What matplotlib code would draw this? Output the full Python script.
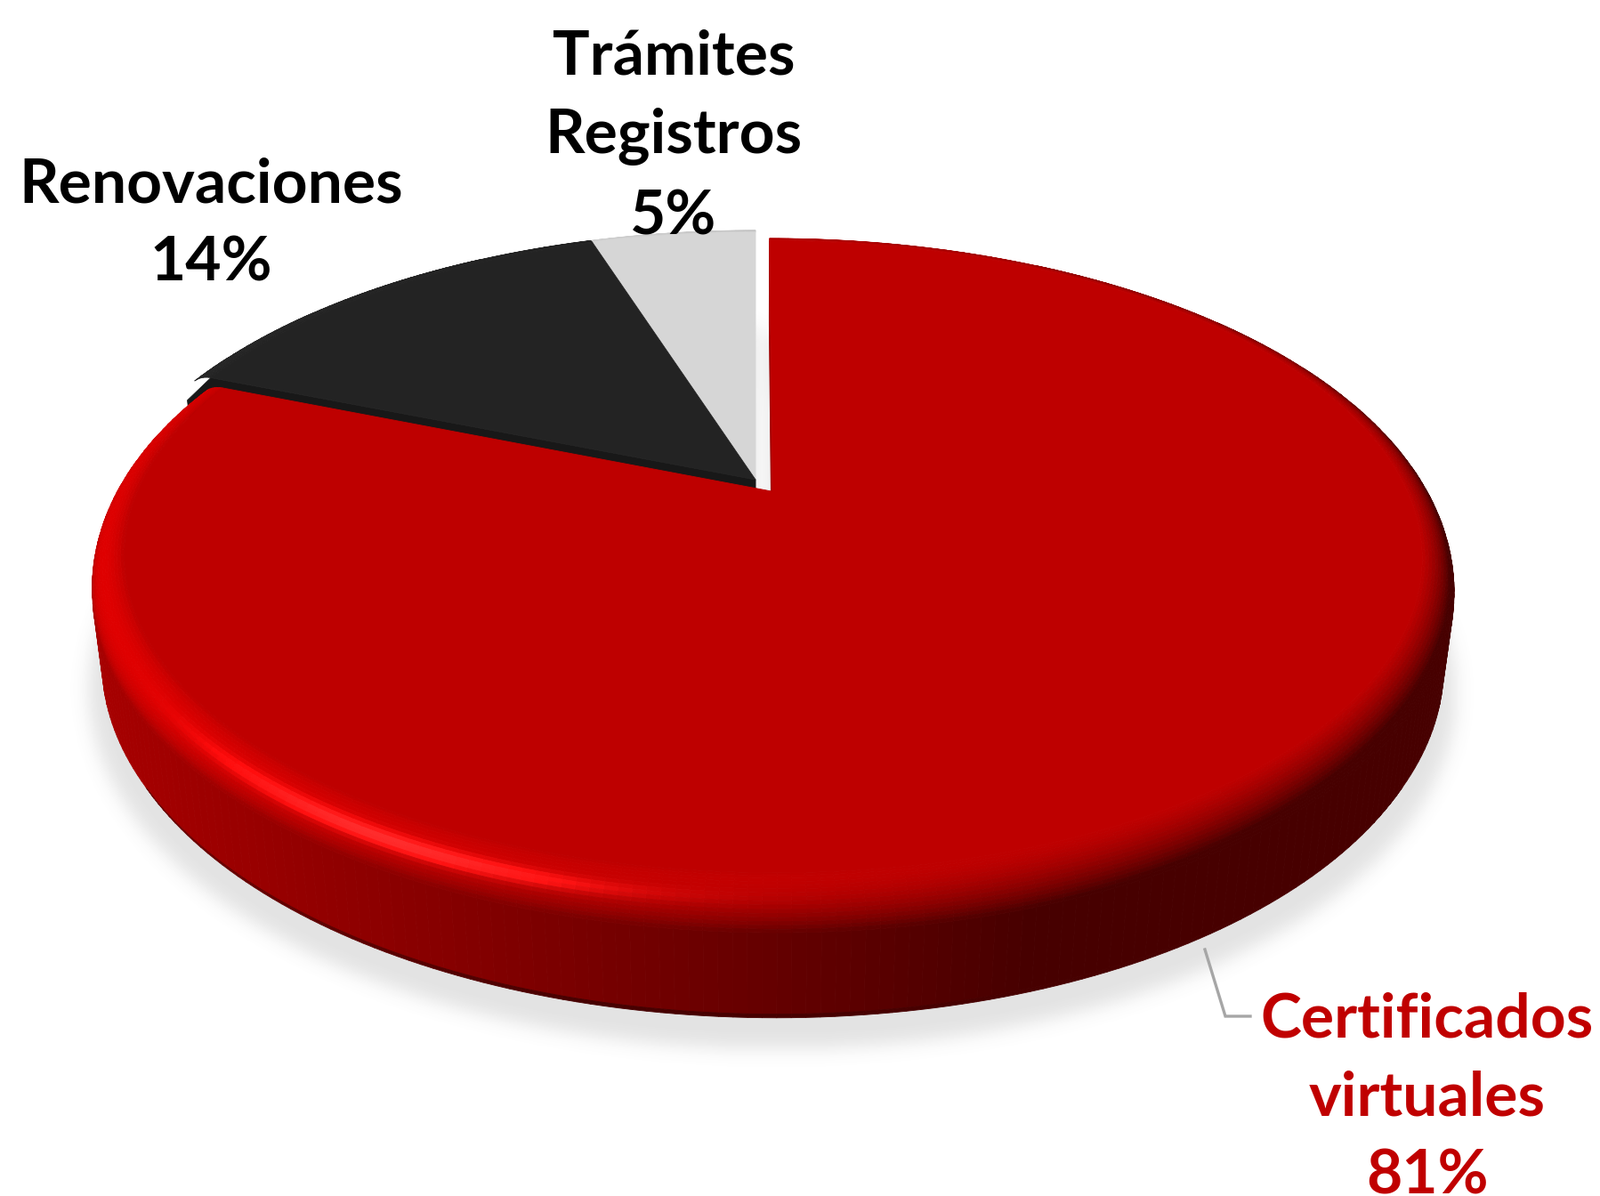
import numpy as np
import matplotlib
matplotlib.use("Agg")
import matplotlib.pyplot as plt
from matplotlib.collections import PolyCollection
from matplotlib.path import Path

# ============ Data ============
names = ["Certificados\nvirtuales", "Renovaciones", "Trámites\nRegistros"]
values = [81, 14, 5]
colors = ["#BE0000", "#232323", "#D6D6D6"]
label_colors = ["#C00000", "#000000", "#000000"]
explode = [0.045, 0.0, 0.0]

# label layout (pixel positions in the 1799x1344 picture)
label_pos = [(1604, 1234), (237, 252), (757, 154)]
leader = [(1354, 1067), (1377, 1142), (1405, 1142)]

W, H = 1799, 1344

# ============ Camera / 3D pie geometry ============
tilt = np.radians(28.2)
cs, sn = np.cos(tilt), np.sin(tilt)
dist, focal = 4.085, 3044.0
thick = 0.184                 # pie height
bev_r, bev_z = 0.05, 0.05     # top bevel
bot = 0.012                   # bottom bevel
center = np.array([849.0, 539.0])
cam = np.array([0.0, -dist * cs, dist * sn])
light = np.array([-0.476, -0.150, 0.625])
ambient = 0.375
view = np.array([0.0, -cs, sn])
half = light / np.linalg.norm(light) + view
half /= np.linalg.norm(half)


def project(p):
    p = np.atleast_2d(p)
    depth = dist + p[:, 1] * cs - p[:, 2] * sn
    px = center[0] + focal * p[:, 0] / depth
    py = center[1] - focal * (p[:, 1] * sn + p[:, 2] * cs) / depth
    return np.column_stack([px, py])


def ring(off, a, r, z):
    # circle points, angles clockwise from 12 o'clock
    a = np.atleast_1d(a)
    return np.column_stack([off[0] + r * np.sin(a), off[1] + r * np.cos(a), np.full(a.shape, z)])


def normal(a, beta):
    return np.array([np.sin(beta) * np.sin(a), np.sin(beta) * np.cos(a), np.cos(beta)])


def shade(rgb, n):
    k = ambient + max(0.0, n @ light)
    spec = 0.6 * max(0.0, n @ half) ** 60
    return np.clip(rgb * k + spec * np.array([1.0, 0.3, 0.3]), 0, 1)


def facing(n, p):
    return n @ (cam - p) > 0


def blur(img, sigma):
    ky = np.fft.fftfreq(img.shape[0])
    kx = np.fft.rfftfreq(img.shape[1])
    g = np.exp(-2 * (np.pi * sigma) ** 2 * (ky[:, None] ** 2 + kx[None, :] ** 2))
    return np.fft.irfft2(np.fft.rfft2(img) * g, s=img.shape)


fracs = np.array(values, float) / sum(values)
starts = np.concatenate([[0], np.cumsum(fracs)[:-1]]) * 2 * np.pi
ends = starts + fracs * 2 * np.pi
mids = (starts + ends) / 2
offsets = [np.array([e * np.sin(m), e * np.cos(m)]) for e, m in zip(explode, mids)]

# ============ Figure ============
fig = plt.figure(figsize=(W / 100, H / 100), dpi=100)
ax = fig.add_axes([0, 0, 1, 1])

# ============ Shadow ============
step = 2
gx = np.arange(0, W, step) + step / 2
gy = np.arange(0, H, step) + step / 2
XX, YY = np.meshgrid(gx, gy)
pts = np.column_stack([XX.ravel(), YY.ravel()])
mask = np.zeros(len(pts))
for i in range(len(values)):
    a = np.linspace(starts[i], ends[i], 200)
    base = np.vstack([[offsets[i][0], offsets[i][1], -thick], ring(offsets[i], a, 1.02, -thick)])
    poly = project(base) + np.array([0, 18])
    mask = np.maximum(mask, Path(poly).contains_points(pts))
soft = blur(mask.reshape(XX.shape), 10 / step)
rgba = np.zeros(soft.shape + (4,))
rgba[..., :3] = 0.45
rgba[..., 3] = np.clip(0.2 * soft, 0, 1)
ax.imshow(rgba, extent=(0, W, H, 0), interpolation="bilinear", zorder=0)

# ============ Slices (far first) ============
order = np.argsort(-np.cos(mids))
for i in order:
    off = offsets[i]
    rgb = np.array(matplotlib.colors.to_rgb(colors[i]))
    a0, a1 = starts[i], ends[i]
    polys, fcols = [], []

    # radial cut faces
    for a, side in ((a0, -1), (a1, 1)):
        n = normal(a + side * np.pi / 2, np.pi / 2)
        apex_t = np.array([off[0], off[1], 0.0])
        if not facing(n, apex_t + 0.5 * np.array([np.sin(a), np.cos(a), 0])):
            continue
        face = np.vstack([apex_t,
                          ring(off, a, 1 - bev_r, 0),
                          ring(off, a, 1, -bev_z),
                          ring(off, a, 1, -(thick - bot)),
                          ring(off, a, 1 - bot, -thick),
                          [off[0], off[1], -thick]])
        polys.append(project(face))
        fcols.append(shade(rgb, n))

    ang = np.linspace(a0, a1, max(3, int(np.degrees(a1 - a0))))
    tb = np.linspace(0, 1, 3)
    tt = np.linspace(0, 1, 17)
    for j in range(len(ang) - 1):
        am = (ang[j] + ang[j + 1]) / 2
        seg = ang[j:j + 2]
        # side wall
        n = normal(am, np.pi / 2)
        if facing(n, ring(off, am, 1, -thick / 2)[0]):
            q = np.vstack([ring(off, seg, 1, -bev_z), ring(off, seg[::-1], 1, -(thick - bot))])
            polys.append(project(q))
            fcols.append(shade(rgb, n))
        # bottom bevel
        for k in range(len(tb) - 1):
            r0 = 1 - bot * (1 - np.cos(tb[k] * np.pi / 2))
            r1 = 1 - bot * (1 - np.cos(tb[k + 1] * np.pi / 2))
            z0 = -(thick - bot) - bot * np.sin(tb[k] * np.pi / 2)
            z1 = -(thick - bot) - bot * np.sin(tb[k + 1] * np.pi / 2)
            n = normal(am, np.pi / 2 + (tb[k] + tb[k + 1]) / 4 * np.pi)
            if facing(n, ring(off, am, r0, z0)[0]):
                q = np.vstack([ring(off, seg, r0, z0), ring(off, seg[::-1], r1, z1)])
                polys.append(project(q))
                fcols.append(shade(rgb, n))
        # top bevel
        for k in range(len(tt) - 1):
            r0 = 1 - bev_r + bev_r * np.sin(tt[k] * np.pi / 2)
            r1 = 1 - bev_r + bev_r * np.sin(tt[k + 1] * np.pi / 2)
            z0 = -bev_z * (1 - np.cos(tt[k] * np.pi / 2))
            z1 = -bev_z * (1 - np.cos(tt[k + 1] * np.pi / 2))
            n = normal(am, (tt[k] + tt[k + 1]) / 4 * np.pi)
            if facing(n, ring(off, am, r0, z0)[0]):
                q = np.vstack([ring(off, seg, r0, z0), ring(off, seg[::-1], r1, z1)])
                polys.append(project(q))
                fcols.append(shade(rgb, n))

    # flat top
    top = np.vstack([[off[0], off[1], 0.0], ring(off, ang, 1 - bev_r, 0)])
    polys.append(project(top))
    fcols.append(rgb)

    ax.add_collection(PolyCollection(polys, facecolors=fcols, edgecolors=fcols,
                                     linewidths=0.6, zorder=2))

# ============ Labels ============
for name, v, c, (tx, ty) in zip(names, values, label_colors, label_pos):
    ax.text(tx, ty, f"{name}\n{v}%", ha="center", va="center", color=c,
            fontsize=50, fontweight="bold", family="Lato", linespacing=1.5,
            multialignment="center", zorder=5)

lx, ly = zip(*leader)
ax.plot(lx, ly, color="#A6A6A6", lw=2.4, solid_joinstyle="miter", zorder=4)

ax.set_xlim(0, W)
ax.set_ylim(H, 0)
ax.set_aspect("auto")
ax.axis("off")
fig.savefig("out.png", dpi=100, facecolor="white")
